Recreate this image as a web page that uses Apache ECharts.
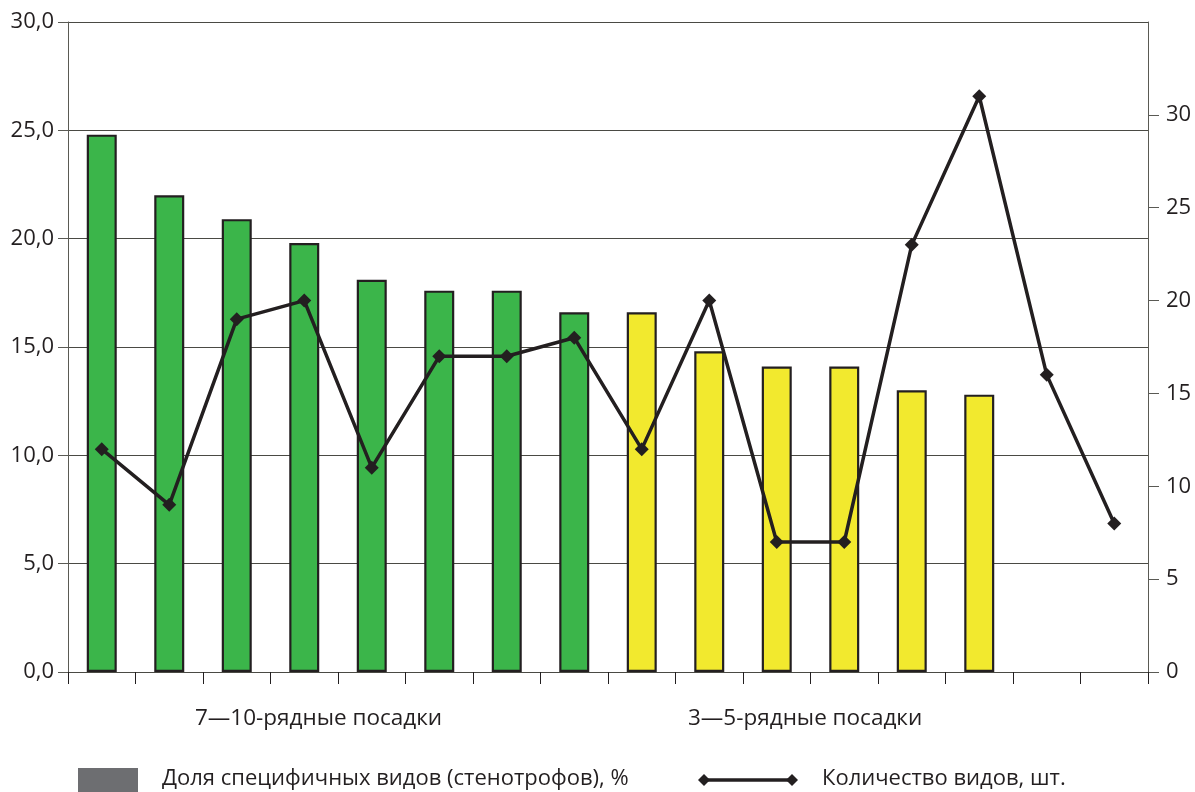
<!DOCTYPE html>
<html>
<head>
<meta charset="utf-8">
<script src="https://cdn.jsdelivr.net/npm/echarts@6/dist/echarts.min.js"></script>
<style>
  html, body { margin: 0; padding: 0; background: #fff; }
  #chart { width: 1195px; height: 792px; }
</style>
</head>
<body>
<div id="chart"></div>
<script>
// ---- data ----
const categories = ['1','2','3','4','5','6','7','8','9','10','11','12','13','14','15','16'];
const shareStenotrophs = [24.8, 22.0, 20.9, 19.8, 18.1, 17.6, 17.6, 16.6, 16.6, 14.8, 14.1, 14.1, 13.0, 12.8, null, null];
const speciesCount = [12, 9, 19, 20, 11, 17, 17, 18, 12, 20, 7, 7, 23, 31, 16, 8];
const groupOf = [0,0,0,0,0,0,0,0,1,1,1,1,1,1,1,1];
const groupLabels = ['7—10-рядные посадки', '3—5-рядные посадки'];
const leftTicks = [0, 5, 10, 15, 20, 25, 30];
const rightTicks = [0, 5, 10, 15, 20, 25, 30];
const seriesNames = ['Доля специфичных видов (стенотрофов), %', 'Количество видов, шт.'];

// ---- styles ----
const groupColors = ['#3bb54a', '#f2e92e'];
const ink = '#231f20';
const gridCol = '#4a4a44';
const font = 'Open Sans';

const chart = echarts.init(document.getElementById('chart'), null, { renderer: 'canvas' });

const barData = shareStenotrophs.map((v, i) => ({
  value: v,
  itemStyle: { color: groupColors[groupOf[i]] }
}));

const option = {
  backgroundColor: '#ffffff',
  animation: false,
  textStyle: { fontFamily: font },
  grid: { left: 68, right: 47, top: 22, bottom: 120, containLabel: false },
  xAxis: {
    type: 'category',
    data: categories,
    boundaryGap: true,
    axisLine: { show: true, lineStyle: { color: gridCol, width: 1 } },
    axisTick: { show: true, inside: false, length: 12, alignWithLabel: false, lineStyle: { color: ink, width: 1 } },
    axisLabel: { show: false },
    splitLine: { show: false }
  },
  yAxis: [
    {
      type: 'value',
      min: 0, max: 30, interval: 5,
      axisLine: { show: true, lineStyle: { color: '#5a5a54', width: 1 } },
      axisTick: { show: true, inside: false, length: 10, customValues: leftTicks, lineStyle: { color: '#5a5a54', width: 1 } },
      axisLabel: {
        color: ink, fontSize: 22, fontFamily: font, margin: 14,
        customValues: leftTicks,
        formatter: v => v.toFixed(1).replace('.', ',')
      },
      splitLine: { show: true, lineStyle: { color: gridCol, width: 1 } }
    },
    {
      type: 'value',
      min: 0, max: 35, interval: 5,
      position: 'right',
      axisLine: { show: true, lineStyle: { color: '#5a5a54', width: 1 } },
      axisTick: { show: true, inside: false, length: 11, customValues: rightTicks, lineStyle: { color: '#5a5a54', width: 1 } },
      axisLabel: {
        color: ink, fontSize: 22, fontFamily: font, margin: 18,
        customValues: rightTicks,
        formatter: v => String(v)
      },
      splitLine: { show: false }
    }
  ],
  series: [
    {
      name: seriesNames[0],
      type: 'bar',
      yAxisIndex: 0,
      data: barData,
      barWidth: 30,
      itemStyle: { borderColor: ink, borderWidth: 2.2 },
      z: 2
    },
    {
      name: seriesNames[1],
      type: 'line',
      yAxisIndex: 1,
      data: speciesCount,
      symbol: 'diamond',
      symbolSize: 14,
      lineStyle: { color: ink, width: 3.5 },
      itemStyle: { color: ink, borderColor: ink, borderWidth: 0 },
      z: 5
    }
  ],
  graphic: [
    { type: 'text', left: 195, top: 707, style: { text: groupLabels[0], fill: ink, font: '22.5px "Open Sans"' } },
    { type: 'text', left: 688, top: 707, style: { text: groupLabels[1], fill: ink, font: '22.5px "Open Sans"' } },
    { type: 'rect', shape: { x: 78, y: 768, width: 60, height: 24 }, style: { fill: '#6d6e71' } },
    { type: 'text', left: 162, top: 768, style: { text: seriesNames[0], fill: ink, font: '22px "Open Sans"' } },
    { type: 'line', shape: { x1: 705, y1: 780, x2: 791, y2: 780 }, style: { stroke: ink, lineWidth: 3.5 } },
    { type: 'polygon', shape: { points: [[698,780],[704,774],[710,780],[704,786]] }, style: { fill: ink } },
    { type: 'polygon', shape: { points: [[786,780],[792,774],[798,780],[792,786]] }, style: { fill: ink } },
    { type: 'text', left: 822, top: 768, style: { text: seriesNames[1], fill: ink, font: '22px "Open Sans"' } }
  ]
};

chart.setOption(option);
</script>
</body>
</html>
